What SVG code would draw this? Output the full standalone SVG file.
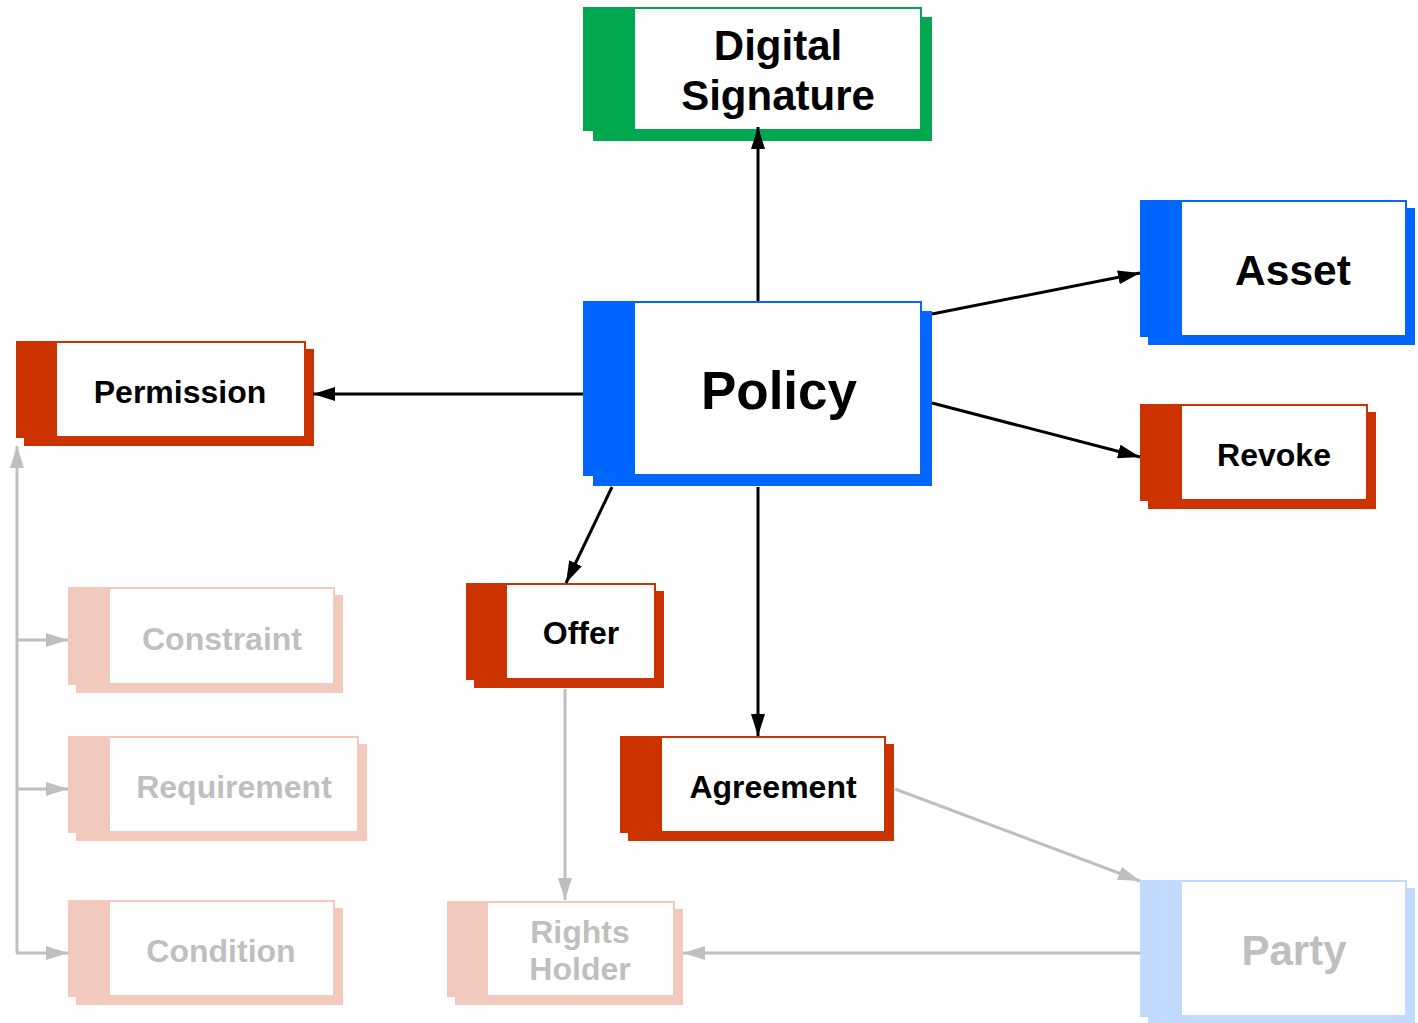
<svg xmlns="http://www.w3.org/2000/svg" width="1418" height="1023" viewBox="0 0 1418 1023">
<defs>
<style>
.t{font-family:"Liberation Sans",Arial,sans-serif;font-weight:bold;text-anchor:middle}
.dark{fill:#000}
.fade{fill:#bfbfbf}
.w{fill:#fff}
.green{fill:#00a94f}
.blue{fill:#0066ff}
.red{fill:#cc3300}
.lred{fill:#f2c9bc}
.lblue{fill:#c2daff}
.lk{fill:none;stroke:#000;stroke-width:3}
.lg{fill:none;stroke:#bfbfbf;stroke-width:3}
</style>
<marker id="ak" markerUnits="userSpaceOnUse" markerWidth="22" markerHeight="14" refX="22" refY="7" orient="auto"><path d="M0,0 L22,7 L0,14 z" fill="#000"/></marker>
<marker id="ag" markerUnits="userSpaceOnUse" markerWidth="22" markerHeight="14" refX="22" refY="7" orient="auto"><path d="M0,0 L22,7 L0,14 z" fill="#bfbfbf"/></marker>
</defs>
<rect width="1418" height="1023" fill="#fff"/>
<g id="digital-signature">
<rect class="green" x="593" y="17" width="339" height="124"/>
<rect class="green" x="583" y="7" width="339" height="124"/>
<rect class="w" x="635" y="9" width="285" height="120"/>
<text class="t dark" x="778" y="60" font-size="42">Digital</text>
<text class="t dark" x="778" y="110" font-size="42">Signature</text>
</g>
<g id="policy">
<rect class="blue" x="593" y="311" width="339" height="175"/>
<rect class="blue" x="583" y="301" width="339" height="175"/>
<rect class="w" x="635" y="303" width="285" height="171"/>
<text class="t dark" x="779" y="409" font-size="53">Policy</text>
</g>
<g id="asset">
<rect class="blue" x="1148" y="208" width="267" height="137"/>
<rect class="blue" x="1140" y="200" width="267" height="137"/>
<rect class="w" x="1182" y="202" width="223" height="133"/>
<text class="t dark" x="1293" y="285" font-size="42.5">Asset</text>
</g>
<g id="revoke">
<rect class="red" x="1148" y="412" width="228" height="97"/>
<rect class="red" x="1140" y="404" width="228" height="97"/>
<rect class="w" x="1182" y="406" width="184" height="93"/>
<text class="t dark" x="1274" y="466" font-size="32">Revoke</text>
</g>
<g id="permission">
<rect class="red" x="24" y="349" width="290" height="97"/>
<rect class="red" x="16" y="341" width="290" height="97"/>
<rect class="w" x="57" y="343" width="247" height="93"/>
<text class="t dark" x="180" y="403" font-size="32">Permission</text>
</g>
<g id="offer">
<rect class="red" x="474" y="591" width="190" height="97"/>
<rect class="red" x="466" y="583" width="190" height="97"/>
<rect class="w" x="507" y="585" width="147" height="93"/>
<text class="t dark" x="581" y="644" font-size="32">Offer</text>
</g>
<g id="agreement">
<rect class="red" x="628" y="744" width="266" height="97"/>
<rect class="red" x="620" y="736" width="266" height="97"/>
<rect class="w" x="662" y="738" width="222" height="93"/>
<text class="t dark" x="773" y="798" font-size="32">Agreement</text>
</g>
<g id="constraint">
<rect class="lred" x="76" y="595" width="267" height="98"/>
<rect class="lred" x="68" y="587" width="267" height="98"/>
<rect class="w" x="110" y="589" width="223" height="94"/>
<text class="t fade" x="222" y="650" font-size="32">Constraint</text>
</g>
<g id="requirement">
<rect class="lred" x="76" y="744" width="291" height="97"/>
<rect class="lred" x="68" y="736" width="291" height="97"/>
<rect class="w" x="110" y="738" width="247" height="93"/>
<text class="t fade" x="234" y="798" font-size="32">Requirement</text>
</g>
<g id="condition">
<rect class="lred" x="76" y="908" width="267" height="97"/>
<rect class="lred" x="68" y="900" width="267" height="97"/>
<rect class="w" x="110" y="902" width="223" height="93"/>
<text class="t fade" x="221" y="962" font-size="32">Condition</text>
</g>
<g id="rights-holder">
<rect class="lred" x="455" y="909" width="228" height="96"/>
<rect class="lred" x="447" y="901" width="228" height="96"/>
<rect class="w" x="488" y="903" width="185" height="92"/>
<text class="t fade" x="580" y="943" font-size="32">Rights</text>
<text class="t fade" x="580" y="980" font-size="32">Holder</text>
</g>
<g id="party">
<rect class="lblue" x="1148" y="888" width="267" height="137"/>
<rect class="lblue" x="1140" y="880" width="267" height="137"/>
<rect class="w" x="1182" y="882" width="223" height="133"/>
<text class="t fade" x="1294" y="965" font-size="42">Party</text>
</g>
<g id="connectors">
<line class="lk" x1="758" y1="301" x2="758" y2="127" marker-end="url(#ak)"/>
<line class="lk" x1="932" y1="314" x2="1140" y2="273" marker-end="url(#ak)"/>
<line class="lk" x1="932" y1="403" x2="1140" y2="457" marker-end="url(#ak)"/>
<line class="lk" x1="583" y1="394" x2="313" y2="394" marker-end="url(#ak)"/>
<line class="lk" x1="612" y1="487" x2="566" y2="583" marker-end="url(#ak)"/>
<line class="lk" x1="758" y1="487" x2="758" y2="736" marker-end="url(#ak)"/>
<line class="lg" x1="565" y1="689" x2="565" y2="900" marker-end="url(#ag)"/>
<line class="lg" x1="895" y1="789" x2="1140" y2="881" marker-end="url(#ag)"/>
<line class="lg" x1="1140" y1="953" x2="683" y2="953" marker-end="url(#ag)"/>
<polyline class="lg" points="17,953 17,446" marker-end="url(#ag)"/>
<line class="lg" x1="16" y1="640" x2="68" y2="640" marker-end="url(#ag)"/>
<line class="lg" x1="16" y1="789" x2="68" y2="789" marker-end="url(#ag)"/>
<line class="lg" x1="16" y1="953" x2="68" y2="953" marker-end="url(#ag)"/>
</g>
</svg>
